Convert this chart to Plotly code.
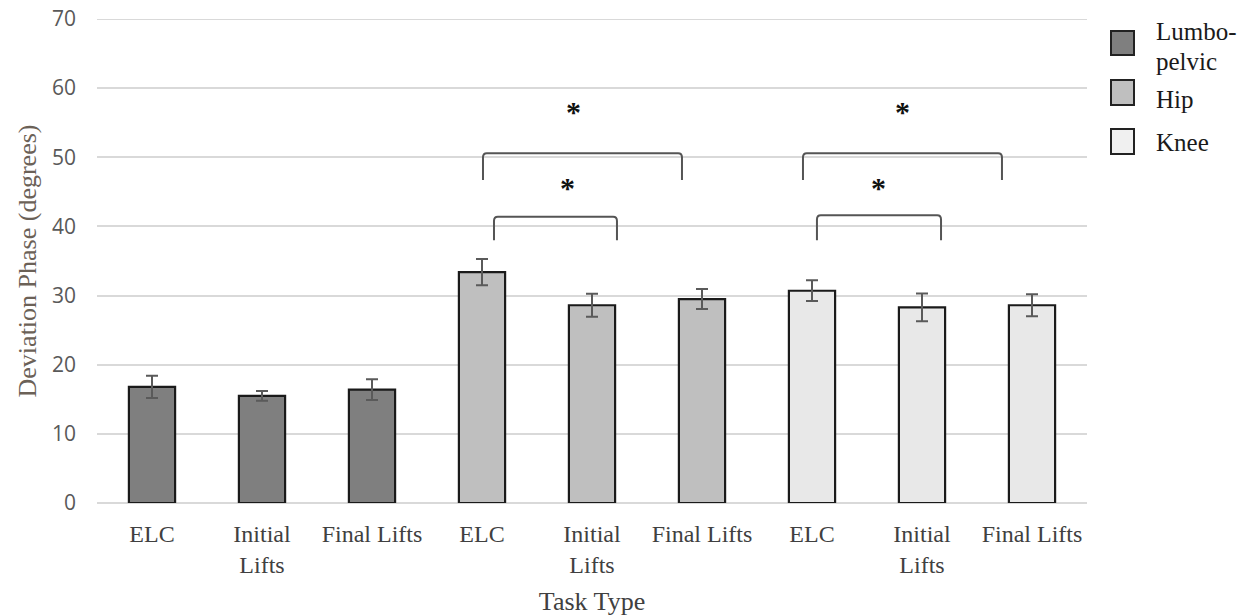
import plotly.graph_objects as go

# ---- data ----
groups = ["Lumbo-pelvic", "Hip", "Knee"]
task_types = ["ELC", "Initial Lifts", "Final Lifts"]
tick_labels = ["ELC", "Initial<br>Lifts", "Final Lifts"] * 3

lumbo_vals = [16.8, 15.5, 16.4]
lumbo_err = [1.6, 0.7, 1.5]
hip_vals = [33.4, 28.6, 29.5]
hip_err = [1.9, 1.65, 1.45]
knee_vals = [30.7, 28.3, 28.6]
knee_err = [1.5, 2.0, 1.6]

colors = ["#7f7f7f", "#bfbfbf", "#e8e8e8"]
legend_colors = ["#7f7f7f", "#bfbfbf", "#f0f0f0"]

# significance brackets: (x_left, x_right, y_top, y_bottom) and star positions
brackets = [
    (3.009, 4.818, 50.6, 46.7),
    (3.109, 4.227, 41.4, 38.0),
    (5.918, 7.727, 50.6, 46.7),
    (6.045, 7.173, 41.6, 38.0),
]
stars = [(3.836, 56.8), (3.773, 45.8), (6.827, 56.8), (6.60, 45.8)]

y_max = 70

series = [(lumbo_vals, lumbo_err), (hip_vals, hip_err), (knee_vals, knee_err)]

fig = go.Figure()
n = len(task_types)
for gi, (vals, errs) in enumerate(series):
    xs = [gi * n + i for i in range(n)]
    fig.add_trace(go.Bar(
        x=xs, y=vals, name=groups[gi], width=0.42,
        marker=dict(color=colors[gi], line=dict(color="#1a1a1a", width=2.2)),
        error_y=dict(type="data", array=errs, visible=True, color="#5a5a5a",
                     thickness=2, width=6),
        showlegend=False,
    ))

shapes = []
# top gridline (plotly skips the gridline on the range edge)
shapes.append(dict(type="line", xref="paper", yref="y", x0=0, x1=1, y0=y_max, y1=y_max,
                   line=dict(color="#d9d9d9", width=2), layer="below"))
rx, ry = 0.035, 0.6
for (x1, x2, yt, yb) in brackets:
    path = (f"M {x1},{yb} L {x1},{yt-ry} Q {x1},{yt} {x1+rx},{yt} "
            f"L {x2-rx},{yt} Q {x2},{yt} {x2},{yt-ry} L {x2},{yb}")
    shapes.append(dict(type="path", path=path, xref="x", yref="y",
                       line=dict(color="#555555", width=2)))

annotations = []
for (sx, sy) in stars:
    annotations.append(dict(x=sx, y=sy, xref="x", yref="y", text="<b>*</b>",
                            showarrow=False, yanchor="middle", yshift=-1,
                            font=dict(family="Liberation Serif", size=30, color="#111111")))

# custom legend (paper coordinates)
L, R, T, B = 97, 1087, 19, 503
def px(xp):
    return (xp - L) / (R - L)
def py(yp):
    return (B - yp) / (B - T)

leg_boxes = [(31, 55), (80, 105), (129, 154)]
for i, (y0, y1) in enumerate(leg_boxes):
    shapes.append(dict(type="rect", xref="paper", yref="paper",
                       x0=px(1111), x1=px(1134), y0=py(y1), y1=py(y0),
                       fillcolor=legend_colors[i], line=dict(color="#222222", width=2)))
leg_text = [("Lumbo-", 32), ("pelvic", 61), ("Hip", 99), ("Knee", 142)]
for t, yc in leg_text:
    annotations.append(dict(x=px(1154), y=py(yc), xref="paper", yref="paper",
                            text=t, showarrow=False, xanchor="left", yanchor="middle",
                            font=dict(family="Liberation Serif", size=25, color="#1a1a1a")))

fig.update_layout(
    width=1250, height=616,
    margin=dict(l=L, r=1250 - R, t=T, b=616 - B),
    paper_bgcolor="white", plot_bgcolor="white",
    shapes=shapes, annotations=annotations,
    xaxis=dict(
        range=[-0.5, 8.5], tickmode="array", tickvals=list(range(9)), ticktext=tick_labels,
        showgrid=False, zeroline=False, showline=False, ticks="", automargin=False,
        tickfont=dict(family="Liberation Serif", size=24, color="#404040"),
        ticklabelstandoff=14,
        title=dict(text="Task Type", font=dict(family="Liberation Serif", size=26, color="#404040"),
                   standoff=16),
    ),
    yaxis=dict(
        range=[0, y_max], dtick=10, showgrid=True, gridcolor="#d9d9d9", gridwidth=2,
        zeroline=True, zerolinecolor="#d9d9d9", zerolinewidth=2, showline=False, ticks="",
        automargin=False,
        tickfont=dict(family="Open Sans", size=21, color="#595959"),
        ticklabelstandoff=20,
        title=dict(text="Deviation Phase (degrees)",
                   font=dict(family="Liberation Serif", size=26, color="#6b6157"), standoff=7),
    ),
)

fig.write_html("out.html")
